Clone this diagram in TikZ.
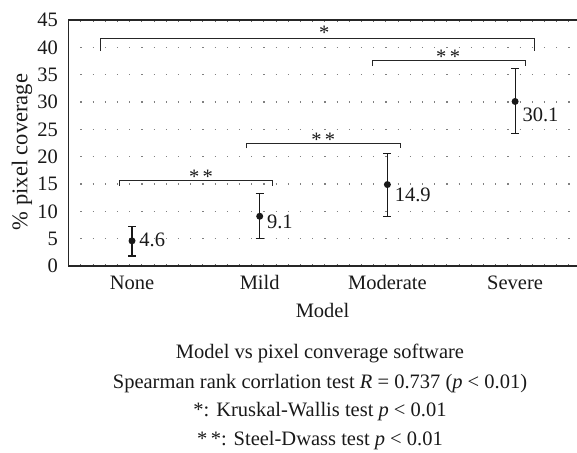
\documentclass[tikz,border=0pt]{standalone}
\usepackage{fontspec}
\setmainfont{Liberation Serif}
\usetikzlibrary{positioning}

\begin{document}
\begin{tikzpicture}[x=1pt,y=1pt,
  txt/.style={font=\fontsize{20.5}{24}\selectfont, inner sep=0pt, text=black!90},
  pt/.style={circle, fill=black!90, inner sep=0pt, minimum size=7pt},
  errbar/.style={line width=1.1pt, black!90},
  brk/.style={line width=1pt, black!85},
  gridln/.style={black!50, line width=1.2pt, dash pattern=on 1.2pt off 11pt},
  axln/.style={line width=1.3pt, black!85},
  axtick/.style={black!60, line width=2pt, dash pattern=on 0.8pt off 11.4pt}]
\useasboundingbox (0,0) rectangle (577,452);
\begin{scope}[shift={(4.3pt,186pt)}, x=127.7pt, y=5.466pt]
  \foreach \v in {5,10,...,40}
    \draw[gridln] (0.5,\v) -- (4.49,\v);
  \draw[axtick] (0.5,0.18) -- (4.49,0.18);
  \draw[axtick] (0.5,44.82) -- (4.49,44.82);
  \draw[axln] (4.49,45) -- (0.5,45) -- (0.5,0) -- (4.49,0);
  \foreach \v in {0,5,...,45}
    \node[txt, anchor=east, xshift=-10pt] (y\v) at (0.5,\v) {\v};
  \foreach \name/\c in {None/1,Mild/2,Moderate/3,Severe/4}
    \node[txt, anchor=base] (c\name) at (\c,-4.39) {\name};
  \node[txt, anchor=base] (xtitle) at (2.492,-9.51) {Model};

  \foreach \name/\c/\m/\lo/\hi/\dy in {none/1/4.6/1.83/7.19/1pt,
      mild/2/9.1/4.99/13.3/-5.7pt, moderate/3/14.9/9.02/20.6/-10.4pt,
      severe/4/30.1/24.3/36.2/-13.5pt}{
    \draw[errbar] (\c,\lo) ++(-4pt,0pt) -- ++(8pt,0pt)
      (\c,\lo) -- (\c,\hi) ++(-4pt,0pt) -- ++(8pt,0pt);
    \node[pt] (\name) at (\c,\m) {};
    \node[txt, right=3.5pt of \name, yshift=\dy] (l\name) {\m};
  }

  \draw[brk] (0.75,39.33) |- (4.15,41.53) -- (4.15,39.33);
  \draw[brk] (2.88,36.58) |- (4.085,37.55) -- (4.085,36.58);
  \draw[brk] (1.893,21.53) |- (3.099,22.45) -- (3.099,21.53);
  \draw[brk] (0.9,14.63) |- (2.1,15.6) -- (2.1,14.63);
  \node[txt, anchor=base, yshift=-1pt] (sall) at (2.506,41.53) {*};
  \node[txt, anchor=base, yshift=-3pt] (sms) at (3.475,37.55) {*\,*};
  \node[txt, anchor=base, yshift=-3pt] (smm) at (2.498,22.45) {*\,*};
  \node[txt, anchor=base, yshift=-3pt] (snm) at (1.54,15.6) {*\,*};
\end{scope}
\node[txt, font=\fontsize{22.5}{26}\selectfont, rotate=90, anchor=base] (ytitle) at (27.5,300) {\% pixel coverage};
\node[txt, anchor=base] (cap1) at (320,93) {Model vs pixel converage software};
\node[txt, anchor=base] (cap2) at (320,64) {Spearman rank corrlation test \textit{R} = 0.737 (\textit{p} < 0.01)};
\node[txt, anchor=base] (cap3) at (320,36) {*: Kruskal-Wallis test \textit{p} < 0.01};
\node[txt, anchor=base] (cap4) at (320,7) {*\,*: Steel-Dwass test \textit{p} < 0.01};
\end{tikzpicture}
\end{document}
